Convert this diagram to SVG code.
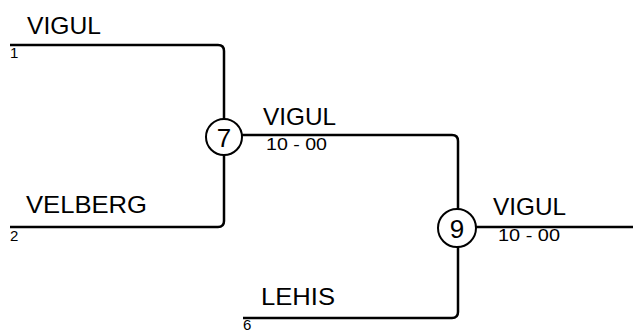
<svg xmlns="http://www.w3.org/2000/svg" width="633" height="331" viewBox="0 0 633 331">
<style>
.c{fill:none;stroke:#000;stroke-width:2.5;stroke-linejoin:round}
.n{font-family:"Liberation Sans",Arial,sans-serif;font-size:24px;fill:#000}
.s{font-family:"Liberation Sans",Arial,sans-serif;font-size:17px;fill:#000}
.d{font-family:"Liberation Sans",Arial,sans-serif;font-size:15px;fill:#000}
.m{fill:#fff;stroke:#000;stroke-width:2}
.mt{font-family:"Liberation Sans",Arial,sans-serif;font-size:26px;fill:#000;text-anchor:middle}
</style>
<rect width="633" height="331" fill="#fff"/>
<g id="connectors">
<path class="c" d="M10 45 H218 Q224 45 224 51 V221 Q224 227 218 227 H10"/>
<path class="c" d="M224 135 H452 Q458 135 458 141 V312 Q458 318 452 318 H243"/>
<path class="c" d="M458 227 H633"/>
</g>
<g id="team1"><text class="n" x="27" y="34" textLength="74" lengthAdjust="spacingAndGlyphs">VIGUL</text><text class="d" x="10" y="58">1</text></g>
<g id="team2"><text class="n" x="26" y="213" textLength="121" lengthAdjust="spacingAndGlyphs">VELBERG</text><text class="d" x="10" y="241">2</text></g>
<g id="team6"><text class="n" x="261" y="305" textLength="74" lengthAdjust="spacingAndGlyphs">LEHIS</text><text class="d" x="243" y="330">6</text></g>
<g id="match7">
<circle class="m" cx="224" cy="137" r="18"/>
<text class="mt" x="224" y="146.5">7</text>
<text class="n" x="263" y="125" textLength="73" lengthAdjust="spacingAndGlyphs">VIGUL</text>
<text class="s" x="266" y="150" textLength="61" lengthAdjust="spacingAndGlyphs">10 - 00</text>
</g>
<g id="match9">
<circle class="m" cx="457" cy="228" r="19"/>
<text class="mt" x="457" y="237.5">9</text>
<text class="n" x="493" y="215" textLength="73" lengthAdjust="spacingAndGlyphs">VIGUL</text>
<text class="s" x="498" y="241" textLength="62" lengthAdjust="spacingAndGlyphs">10 - 00</text>
</g>
</svg>
